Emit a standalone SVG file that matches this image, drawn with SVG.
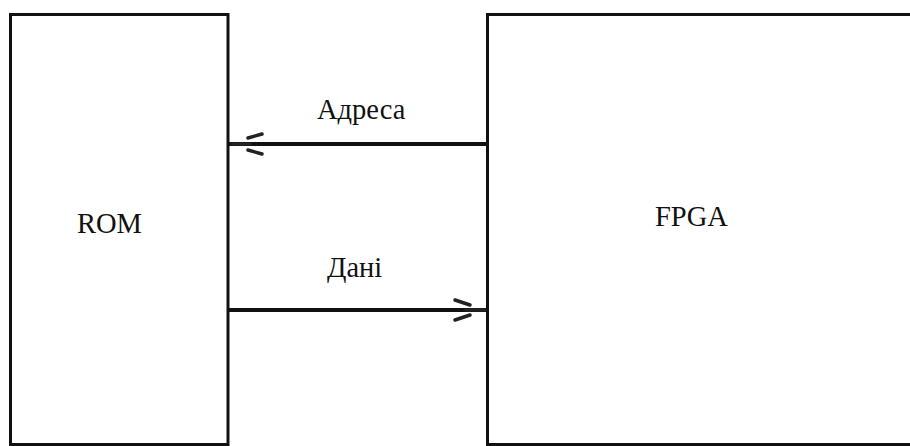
<svg xmlns="http://www.w3.org/2000/svg" width="910" height="446" viewBox="0 0 910 446">
<style>
.box{fill:#fff;stroke:#111;stroke-width:3}
.lbl{font-family:"Liberation Serif","Times New Roman",serif;font-size:28.5px;fill:#111}
.line{stroke:#111;stroke-width:4;fill:none}
.barb{stroke:#222;stroke-width:3.5;fill:none;stroke-linecap:round}
</style>
<rect width="910" height="446" fill="#fff"/>
<g id="rom">
<rect class="box" x="10.5" y="14.5" width="217.5" height="430"/>
<text class="lbl" x="77" y="233">ROM</text>
</g>
<g id="fpga">
<rect class="box" x="487.5" y="14.5" width="430" height="430"/>
<text class="lbl" x="655" y="226">FPGA</text>
</g>
<g id="connectors">
<line class="line" x1="487" y1="144" x2="229" y2="144"/>
<path class="barb" d="M262 134 L248 138 M262 154 L248 150 M232 144 L250 144"/>
<text class="lbl" x="317" y="119">Адреса</text>
<line class="line" x1="229" y1="310" x2="487" y2="310"/>
<path class="barb" d="M455 300 L470 305 M455 320 L470 315 M466 310 L485 310"/>
<text class="lbl" x="327" y="277">Дані</text>
</g>
</svg>
